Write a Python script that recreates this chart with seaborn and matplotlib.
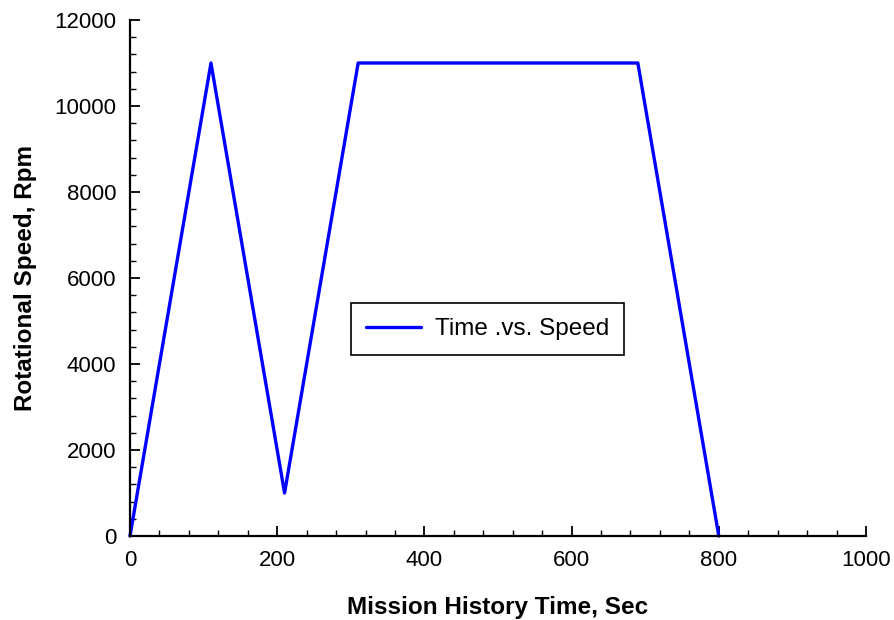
import matplotlib
matplotlib.use("Agg")
import matplotlib.pyplot as plt
import seaborn as sns
import pandas as pd
from matplotlib.ticker import MultipleLocator

time_sec = [0, 110, 210, 310, 690, 800]
speed_rpm = [0, 11000, 1000, 11000, 11000, 0]
series_label = "Time .vs. Speed"

sns.set_theme(style="ticks")
plt.rcParams['font.family'] = ['Liberation Sans', 'DejaVu Sans']
plt.rcParams['text.color'] = 'black'
plt.rcParams['axes.labelcolor'] = 'black'

df = pd.DataFrame({"t": time_sec, "s": speed_rpm, "series": series_label})

fig = plt.figure(figsize=(8.94, 6.2), dpi=100)
ax = fig.add_axes([130/894, 84/620, 736/894, 516/620])
sns.lineplot(data=df, x="t", y="s", hue="series", palette=["#0000ff"],
             linewidth=2.4, ax=ax, sort=False, estimator=None)

ax.set_xlim(0, 1000)
ax.set_ylim(0, 12000)
ax.xaxis.set_major_locator(MultipleLocator(200))
ax.xaxis.set_minor_locator(MultipleLocator(40))
ax.yaxis.set_major_locator(MultipleLocator(2000))
ax.yaxis.set_minor_locator(MultipleLocator(400))
for s in ["top", "right"]:
    ax.spines[s].set_visible(False)
for s in ["left", "bottom"]:
    ax.spines[s].set_linewidth(1.6)
    ax.spines[s].set_color("black")
ax.tick_params(which="major", direction="in", length=7, width=1.3, labelsize=16,
               colors="black", pad=10)
ax.tick_params(which="minor", direction="in", length=4, width=1.0, colors="black")
ax.set_xlabel("Mission History Time, Sec", fontsize=17.5, fontweight="bold", labelpad=18)
ax.set_ylabel("Rotational Speed, Rpm", fontsize=17.5, fontweight="bold", labelpad=12)

leg = ax.legend(loc="center", bbox_to_anchor=(487.5/894, 1 - 329/620),
                bbox_transform=fig.transFigure, fontsize=17.5, frameon=True,
                fancybox=False, edgecolor="black", framealpha=1.0,
                handlelength=2.26, borderpad=0.6, handletextpad=0.58)
leg.get_frame().set_linewidth(1.2)
for line in ax.lines:
    line.set_clip_on(False)

fig.savefig("out.png", dpi=100, facecolor="white")
